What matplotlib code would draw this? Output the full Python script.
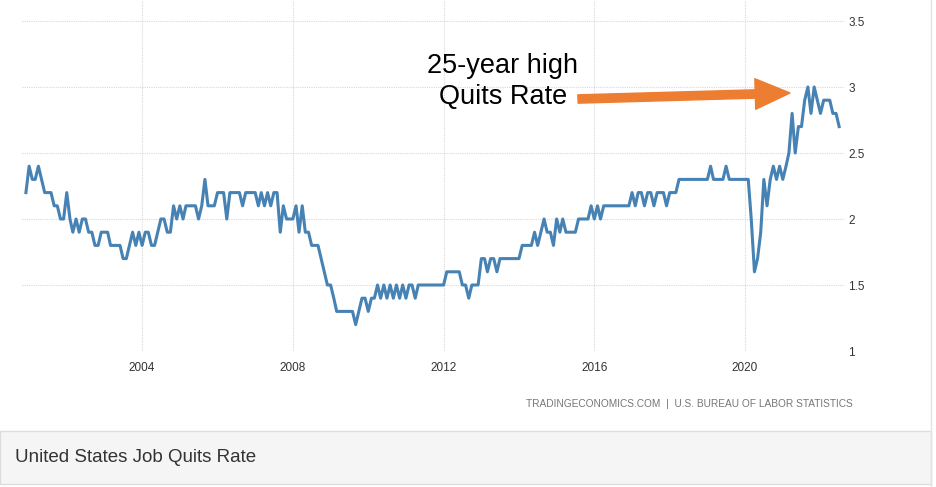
import matplotlib
matplotlib.use("Agg")
import matplotlib.pyplot as plt
import matplotlib.dates as mdates
from matplotlib.patches import FancyArrowPatch, Rectangle
import pandas as pd

# monthly quits rate (%), Dec 2000 .. Jul 2022
q2000 = [2.2]
q2001 = [2.4, 2.3, 2.3, 2.4, 2.3, 2.2, 2.2, 2.2, 2.1, 2.1, 2.0, 2.0]
q2002 = [2.2, 2.0, 1.9, 2.0, 1.9, 2.0, 2.0, 1.9, 1.9, 1.8, 1.8, 1.9]
q2003 = [1.9, 1.9, 1.8, 1.8, 1.8, 1.8, 1.7, 1.7, 1.8, 1.9, 1.8, 1.9]
q2004 = [1.8, 1.9, 1.9, 1.8, 1.8, 1.9, 2.0, 2.0, 1.9, 1.9, 2.1, 2.0]
q2005 = [2.1, 2.0, 2.1, 2.1, 2.1, 2.1, 2.0, 2.1, 2.3, 2.1, 2.1, 2.1]
q2006 = [2.2, 2.2, 2.2, 2.0, 2.2, 2.2, 2.2, 2.2, 2.1, 2.2, 2.2, 2.2]
q2007 = [2.2, 2.1, 2.2, 2.1, 2.2, 2.1, 2.2, 2.2, 1.9, 2.1, 2.0, 2.0]
q2008 = [2.0, 2.1, 1.9, 2.1, 1.9, 1.9, 1.8, 1.8, 1.8, 1.7, 1.6, 1.5]
q2009 = [1.5, 1.4, 1.3, 1.3, 1.3, 1.3, 1.3, 1.3, 1.2, 1.3, 1.4, 1.4]
q2010 = [1.3, 1.4, 1.4, 1.5, 1.4, 1.5, 1.4, 1.5, 1.4, 1.5, 1.4, 1.5]
q2011 = [1.4, 1.5, 1.5, 1.4, 1.5, 1.5, 1.5, 1.5, 1.5, 1.5, 1.5, 1.5]
q2012 = [1.5, 1.6, 1.6, 1.6, 1.6, 1.6, 1.5, 1.5, 1.4, 1.5, 1.5, 1.5]
q2013 = [1.7, 1.7, 1.6, 1.7, 1.7, 1.6, 1.7, 1.7, 1.7, 1.7, 1.7, 1.7]
q2014 = [1.7, 1.8, 1.8, 1.8, 1.8, 1.9, 1.8, 1.9, 2.0, 1.9, 1.9, 1.8]
q2015 = [2.0, 1.9, 2.0, 1.9, 1.9, 1.9, 1.9, 2.0, 2.0, 2.0, 2.0, 2.1]
q2016 = [2.0, 2.1, 2.0, 2.1, 2.1, 2.1, 2.1, 2.1, 2.1, 2.1, 2.1, 2.1]
q2017 = [2.2, 2.1, 2.2, 2.2, 2.1, 2.2, 2.2, 2.1, 2.2, 2.2, 2.2, 2.1]
q2018 = [2.2, 2.2, 2.2, 2.3, 2.3, 2.3, 2.3, 2.3, 2.3, 2.3, 2.3, 2.3]
q2019 = [2.3, 2.4, 2.3, 2.3, 2.3, 2.3, 2.4, 2.3, 2.3, 2.3, 2.3, 2.3]
q2020 = [2.3, 2.3, 2.0, 1.6, 1.7, 1.9, 2.3, 2.1, 2.3, 2.4, 2.3, 2.4]
q2021 = [2.3, 2.4, 2.5, 2.8, 2.5, 2.7, 2.7, 2.9, 3.0, 2.8, 3.0, 2.9]
q2022 = [2.8, 2.9, 2.9, 2.9, 2.8, 2.8, 2.7]

quits = (q2000 + q2001 + q2002 + q2003 + q2004 + q2005 + q2006 + q2007 + q2008
         + q2009 + q2010 + q2011 + q2012 + q2013 + q2014 + q2015 + q2016
         + q2017 + q2018 + q2019 + q2020 + q2021 + q2022)
dates = pd.date_range("2000-12-01", periods=len(quits), freq="MS")

year_ticks = ["2004", "2008", "2012", "2016", "2020"]
y_ticks = [1, 1.5, 2, 2.5, 3, 3.5]
y_labels = ["1", "1.5", "2", "2.5", "3", "3.5"]

W, H = 937, 487
fig = plt.figure(figsize=(W / 100, H / 100), dpi=100)
fig.patch.set_facecolor("white")


def fx(x):
    return x / W


def fy(y):
    return 1 - y / H


# plot area in pixels: x 22..844, y 0..351
ax = fig.add_axes([fx(22), fy(351), (844 - 22) / W, 351 / H])
ax.plot(dates, quits, color="#4682b4", lw=2.2, solid_joinstyle="round")

ax.set_xlim(pd.Timestamp("2000-10-24"), pd.Timestamp("2022-08-17"))
ax.set_ylim(1, 1 + 351 / 132)
ax.set_xticks([pd.Timestamp(y + "-01-01") for y in year_ticks])
ax.xaxis.set_major_formatter(mdates.DateFormatter("%Y"))
ax.set_yticks(y_ticks)
ax.set_yticklabels(y_labels)
ax.yaxis.tick_right()

for s in ax.spines.values():
    s.set_visible(False)
ax.tick_params(axis="both", length=0, labelsize=8.5, labelcolor="#333333")
ax.tick_params(axis="x", pad=8)
ax.tick_params(axis="y", pad=3)
for lab in ax.get_xticklabels() + ax.get_yticklabels():
    lab.set_fontfamily("Liberation Sans")
ax.grid(True, color="#d9d9d9", linestyle=(0, (1, 1)), lw=0.8)
ax.set_axisbelow(True)

# annotation
fig.text(fx(503), fy(66), "25-year high", ha="center", va="center",
         fontsize=19.5, family="Liberation Sans", color="black")
fig.text(fx(503), fy(97), "Quits Rate", ha="center", va="center",
         fontsize=19.5, family="Liberation Sans", color="black")
arrow = FancyArrowPatch(posA=(fx(578), fy(99)), posB=(fx(790), fy(93)),
                        transform=fig.transFigure,
                        arrowstyle="simple,head_length=25,head_width=22,tail_width=6",
                        mutation_scale=1, shrinkA=0, shrinkB=0,
                        color="#ed7d31", zorder=5)
fig.add_artist(arrow)

# source line
fig.text(fx(853), fy(404), "TRADINGECONOMICS.COM  |  U.S. BUREAU OF LABOR STATISTICS",
         ha="right", va="center", fontsize=7.3, family="Liberation Sans",
         color="#777777")

# right border and bottom title panel
fig.add_artist(plt.Line2D([fx(931), fx(931)], [0, 1], transform=fig.transFigure,
                          color="#e3e3e3", lw=1))
fig.add_artist(Rectangle((0, fy(484)), fx(931), (484 - 431) / H,
                         transform=fig.transFigure, facecolor="#f5f5f5",
                         edgecolor="#dddddd", lw=1))
fig.text(fx(15), fy(457), "United States Job Quits Rate", ha="left", va="center",
         fontsize=13.5, family="Liberation Sans", color="#333333")

fig.savefig("out.png", dpi=100)
